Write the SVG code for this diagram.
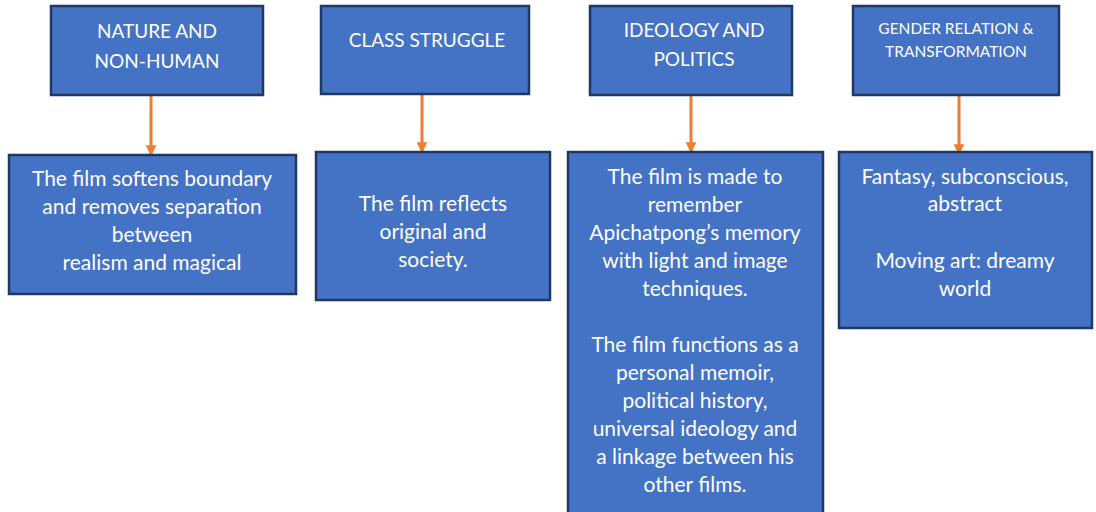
<svg xmlns="http://www.w3.org/2000/svg" width="1096" height="512" viewBox="0 0 1096 512">
  <defs>
    <style>
      .box { fill: #4472C4; stroke: #1F3864; stroke-width: 2.5; }
      .t { font-family: Lato, "Liberation Sans", sans-serif; fill: #ffffff; text-anchor: middle; }
      .h { font-size: 19px; }
      .hs { font-size: 15.5px; }
      .b { font-size: 21px; }
      .link { stroke: #ED7D31; stroke-width: 3; fill: none; marker-end: url(#arrow); }
    </style>
    <marker id="arrow" viewBox="0 0 10 10" refX="9" refY="5" markerWidth="3.6" markerHeight="4.4" orient="auto" markerUnits="strokeWidth">
      <path d="M0,0 L10,5 L0,10 Z" fill="#ED7D31"/>
    </marker>
  </defs>
  <rect width="1096" height="512" fill="#ffffff"/>

  <g id="connectors">
    <line class="link" x1="151" y1="96" x2="151" y2="155"/>
    <line class="link" x1="422" y1="95" x2="422" y2="152"/>
    <line class="link" x1="691" y1="96" x2="691" y2="152"/>
    <line class="link" x1="959" y1="96" x2="959" y2="154"/>
  </g>

  <g id="nature">
    <rect class="box" x="51" y="6" width="212" height="89"/>
    <text class="t h" x="157" y="38">NATURE AND</text>
    <text class="t h" x="157" y="68">NON-HUMAN</text>
  </g>
  <g id="class">
    <rect class="box" x="321" y="6" width="208" height="88"/>
    <text class="t h" x="427" y="47">CLASS STRUGGLE</text>
  </g>
  <g id="ideology">
    <rect class="box" x="590" y="6" width="202" height="89"/>
    <text class="t h" x="694" y="37">IDEOLOGY AND</text>
    <text class="t h" x="694" y="66">POLITICS</text>
  </g>
  <g id="gender">
    <rect class="box" x="853" y="6" width="206" height="89"/>
    <text class="t hs" x="956" y="34">GENDER RELATION &amp;</text>
    <text class="t hs" x="956" y="57">TRANSFORMATION</text>
  </g>

  <g id="nature-detail">
    <rect class="box" x="9" y="155" width="287" height="139"/>
    <text class="t b" x="152" y="186">The film softens boundary</text>
    <text class="t b" x="152" y="214">and removes separation</text>
    <text class="t b" x="152" y="242">between</text>
    <text class="t b" x="152" y="270">realism and magical</text>
  </g>
  <g id="class-detail">
    <rect class="box" x="316" y="152" width="234" height="148"/>
    <text class="t b" x="433" y="211">The film reflects</text>
    <text class="t b" x="433" y="239">original and</text>
    <text class="t b" x="433" y="267">society.</text>
  </g>
  <g id="ideology-detail">
    <rect class="box" x="568" y="152" width="255" height="365"/>
    <text class="t b" x="695" y="184">The film is made to</text>
    <text class="t b" x="695" y="212">remember</text>
    <text class="t b" x="695" y="240">Apichatpong’s memory</text>
    <text class="t b" x="695" y="268">with light and image</text>
    <text class="t b" x="695" y="296">techniques.</text>
    <text class="t b" x="695" y="352">The film functions as a</text>
    <text class="t b" x="695" y="380">personal memoir,</text>
    <text class="t b" x="695" y="408">political history,</text>
    <text class="t b" x="695" y="436">universal ideology and</text>
    <text class="t b" x="695" y="464">a linkage between his</text>
    <text class="t b" x="695" y="492">other films.</text>
  </g>
  <g id="gender-detail">
    <rect class="box" x="839" y="152" width="253" height="176"/>
    <text class="t b" x="965" y="184">Fantasy, subconscious,</text>
    <text class="t b" x="965" y="211">abstract</text>
    <text class="t b" x="965" y="268">Moving art: dreamy</text>
    <text class="t b" x="965" y="296">world</text>
  </g>
</svg>
